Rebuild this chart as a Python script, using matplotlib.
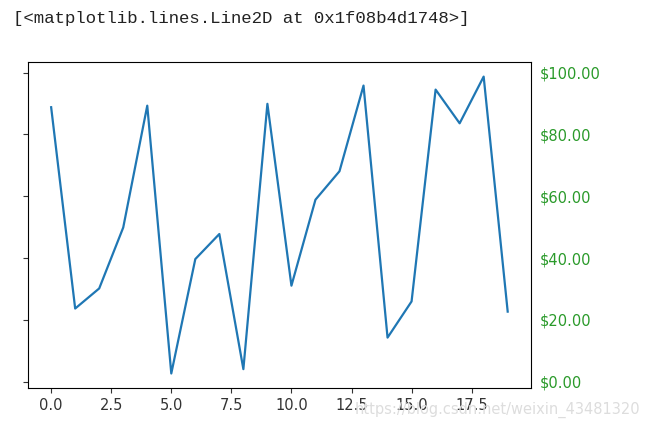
import matplotlib
matplotlib.use("Agg")
import matplotlib.pyplot as plt
from matplotlib import ticker

# values
prices = [88.8, 23.7, 30.2, 49.9, 89.3, 2.7, 39.7, 47.8, 4.1, 89.9,
          31.1, 58.9, 68.1, 95.8, 14.3, 26.0, 94.5, 83.6, 98.7, 22.7]
yticks = [0, 20, 40, 60, 80, 100]
xticks = [0.0, 2.5, 5.0, 7.5, 10.0, 12.5, 15.0, 17.5]

fig = plt.figure(figsize=(6.48, 4.28), dpi=100)
ax = fig.add_axes([0.0437, 0.0927, 0.775, 0.763])

ax.plot(prices, linewidth=1.6)

ax.set_yticks(yticks)
ax.set_xticks(xticks)
ax.yaxis.set_major_formatter(ticker.FormatStrFormatter('$%1.2f'))
ax.tick_params(labelsize=10.5, colors='#333333')
for tick in ax.yaxis.get_major_ticks():
    tick.label1.set_visible(False)
    tick.label2.set_visible(True)
    tick.label2.set_color('#2a9a2a')

# jupyter output line above the figure
fig.text(0.02, 0.957, '[<matplotlib.lines.Line2D at 0x1f08b4d1748>]',
         fontsize=12.5, family=['Liberation Mono', 'DejaVu Sans Mono'],
         color='#222222', va='center')

# blog watermark
fig.text(0.988, 0.042, 'https://blog.csdn.net/weixin_43481320',
         fontsize=10.5, color='#dddddd', ha='right', va='center')

fig.savefig('out.png', dpi=100)
